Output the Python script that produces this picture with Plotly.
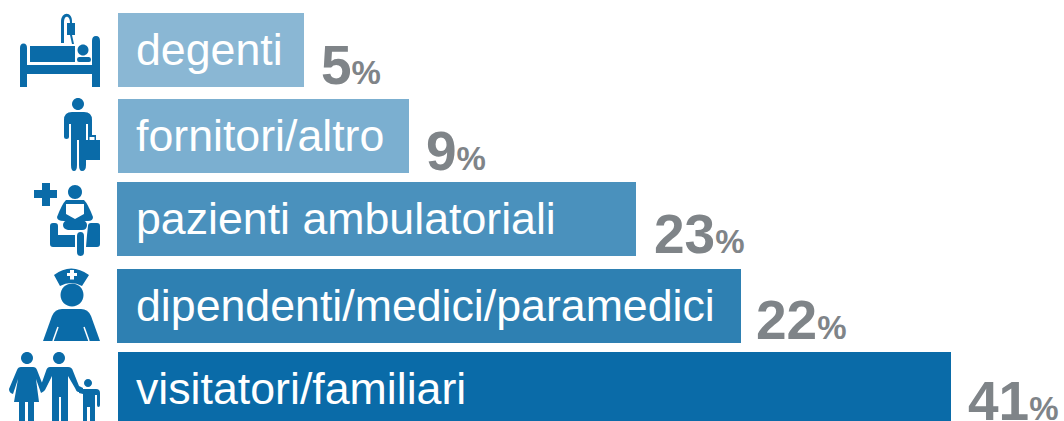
import plotly.graph_objects as go

categories = ["degenti", "fornitori/altro", "pazienti ambulatoriali", "dipendenti/medici/paramedici", "visitatori/familiari"]
percent_values = [5, 9, 23, 22, 41]
bar_starts = [118, 118, 117, 117, 118]
bar_lengths = [186, 291, 519, 624, 833]
bar_centers = [50, 136, 219, 306, 389]
bar_colors = ["#8AB7D4", "#7BAFD0", "#4A91BD", "#2E80B2", "#0A6BA8"]
value_gaps = [15, 15, 16, 13, 15]
value_drops = [15, 15, 15, 14, 12]

ICON = "#0A6BA8"
FONT = "Liberation Sans, Arial, sans-serif"

fig = go.Figure()
fig.add_trace(go.Bar(
    x=bar_lengths, y=bar_centers, base=bar_starts, orientation="h", width=74,
    marker=dict(color=bar_colors, line=dict(width=0)),
    hoverinfo="skip", showlegend=False,
))

annotations = []
for cat, val, s, l, c, gap, drop in zip(categories, percent_values, bar_starts, bar_lengths, bar_centers, value_gaps, value_drops):
    annotations.append(dict(x=134, y=c - 1, xref="x", yref="y", text=cat, showarrow=False, xanchor="left", yanchor="middle",
                            font=dict(family=FONT, size=44.7, color="#FFFFFF")))
    annotations.append(dict(x=s + l + gap, y=c + drop, xref="x", yref="y", showarrow=False, xanchor="left", yanchor="middle",
                            text=f"<b>{val}</b><b><span style='font-size:33px'>%</span></b>",
                            font=dict(family=FONT, size=55, color="#7F8488")))

def rect(x0, y0, x1, y1):
    return f"M{x0},{y0}L{x1},{y0}L{x1},{y1}L{x0},{y1}Z"

def circle(cx, cy, r):
    k = 0.5523 * r
    return (f"M{cx-r},{cy}C{cx-r},{cy-k} {cx-k},{cy-r} {cx},{cy-r}"
            f"C{cx+k},{cy-r} {cx+r},{cy-k} {cx+r},{cy}"
            f"C{cx+r},{cy+k} {cx+k},{cy+r} {cx},{cy+r}"
            f"C{cx-k},{cy+r} {cx-r},{cy+k} {cx-r},{cy}Z")

paths = [
    # bed
    "M20,87L20,48Q20,43.5 23.5,43.5Q27,43.5 27,48L27,65L92,65L92,41Q92,36 96,36Q100,36 100,41L100,87L92,87L92,74L27,74L27,87Z",
    rect(30, 46, 75, 62), circle(83, 50, 5.5), "M79,57L89,57Q91,57 91,59.5Q91,62 89,62L79,62Q77,62 77,59.5Q77,57 79,57Z",
    rect(67, 23, 75, 35), rect(61, 22, 64, 43),
    "M61,22C61,11 73,11 72,23L70,23C70,15 64,15 64,22Z",
    "M70,35L72,35L74,44L72,44Z",
    # person with briefcase
    circle(78, 104, 6),
    "M64,120Q64,112 72,112L84,112Q92,112 92,120L92,136L88,136L88,124L86,124L86,165Q86,171 82,171Q79,171 79,165L79,140L77,140L77,165Q77,171 74,171Q71,171 71,165L71,124L69,124L69,137Q69,139 66.5,139Q64,139 64,137Z",
    rect(86, 140, 100, 160), "M88,140L88,135L96,135L96,140L94.5,140L94.5,137L89.5,137L89.5,140Z",
    # patient
    "M42,183L50,183L50,190L57,190L57,198L50,198L50,206L42,206L42,198L34,198L34,190L42,190Z",
    circle(75, 192, 7),
    "M66,200L84,200Q88,204 93,217Q93,221 88,221L64,221Q57,221 57,217Q62,204 66,200Z",
    "M68,220L82,220Q87,221 87,225Q87,230 82,230L68,230Q63,229 63,225Q63,221 68,220Z",
    "M50,226Q50,223 53,223L55,223Q58,223 58,226L58,235L75,235L75,247L53,247Q50,247 50,244Z",
    "M87,235L88,226Q88,223 91,223L97,223Q100,223 100,226L100,244Q100,247 97,247L86,247Z",
    "M77,236Q77,232 80.5,232Q84,232 84,236L84,252Q84,256 80.5,256Q77,256 77,252Z",
    # nurse
    "M54,275Q71,262 89,275L82,286Q71,280 60,286Z",
    circle(72, 295, 11.5),
    "M43,341L52,316Q55,309 62,309L81,309Q88,309 91,316L100,341Z",
    # family: woman
    circle(27, 358, 6),
    "M21,367L33,367Q36,367 37,370L44,388Q44,392 41,393L36,379L39,402L34,402L34,421L28,421L28,402L25,402L25,421L19,421L19,402L14,402L18,379L13,394Q9,393 9,389L17,370Q18,367 21,367Z",
    # family: man
    circle(59, 358, 6),
    "M50,367L68,367Q72,367 73,371L79,386L83,388L83,392L78,392Q76,391 75,388L68,376L68,421L61,421L61,397L59,397L59,421L52,421L52,376L45,390Q43,393 41,391L40,388L46,371Q47,367 50,367Z",
    # family: child
    circle(88, 383, 4),
    "M83,389L96,389Q100,389 100,393L100,405Q100,407 98.5,407Q97,407 97,405L97,395L95,395L95,421L90,421L90,407L87,407L87,421L83,421L83,394L79,393L79,389Z",
]
shapes = [dict(type="path", path=p, xref="x", yref="y", fillcolor=ICON, line=dict(width=0), layer="above") for p in paths]
white_paths = [
    "M70,270L74,270L74,273L77,273L77,276L74,276L74,279.5L70,279.5L70,276L67,276L67,273L70,273Z",
    "M66,204L84,204L84,214L75,219L66,214Z",
]
shapes += [dict(type="path", path=p, xref="x", yref="y", fillcolor="#FFFFFF", line=dict(width=0), layer="above") for p in white_paths]
shapes += [
    dict(type="line", x0=53, y0=341, x1=58, y1=327, xref="x", yref="y", line=dict(color="#FFFFFF", width=1.5), layer="above"),
    dict(type="line", x0=89, y0=341, x1=84, y1=327, xref="x", yref="y", line=dict(color="#FFFFFF", width=1.5), layer="above"),
]

fig.update_layout(
    width=1064, height=421, margin=dict(l=0, r=0, t=0, b=0),
    paper_bgcolor="#FFFFFF", plot_bgcolor="#FFFFFF",
    xaxis=dict(range=[0, 1064], visible=False, fixedrange=True),
    yaxis=dict(range=[421, 0], visible=False, fixedrange=True),
    annotations=annotations, shapes=shapes, showlegend=False,
)
fig.write_html("out.html", config={"displayModeBar": False},
               post_script="document.body.style.margin='0';document.body.style.overflow='hidden';")
